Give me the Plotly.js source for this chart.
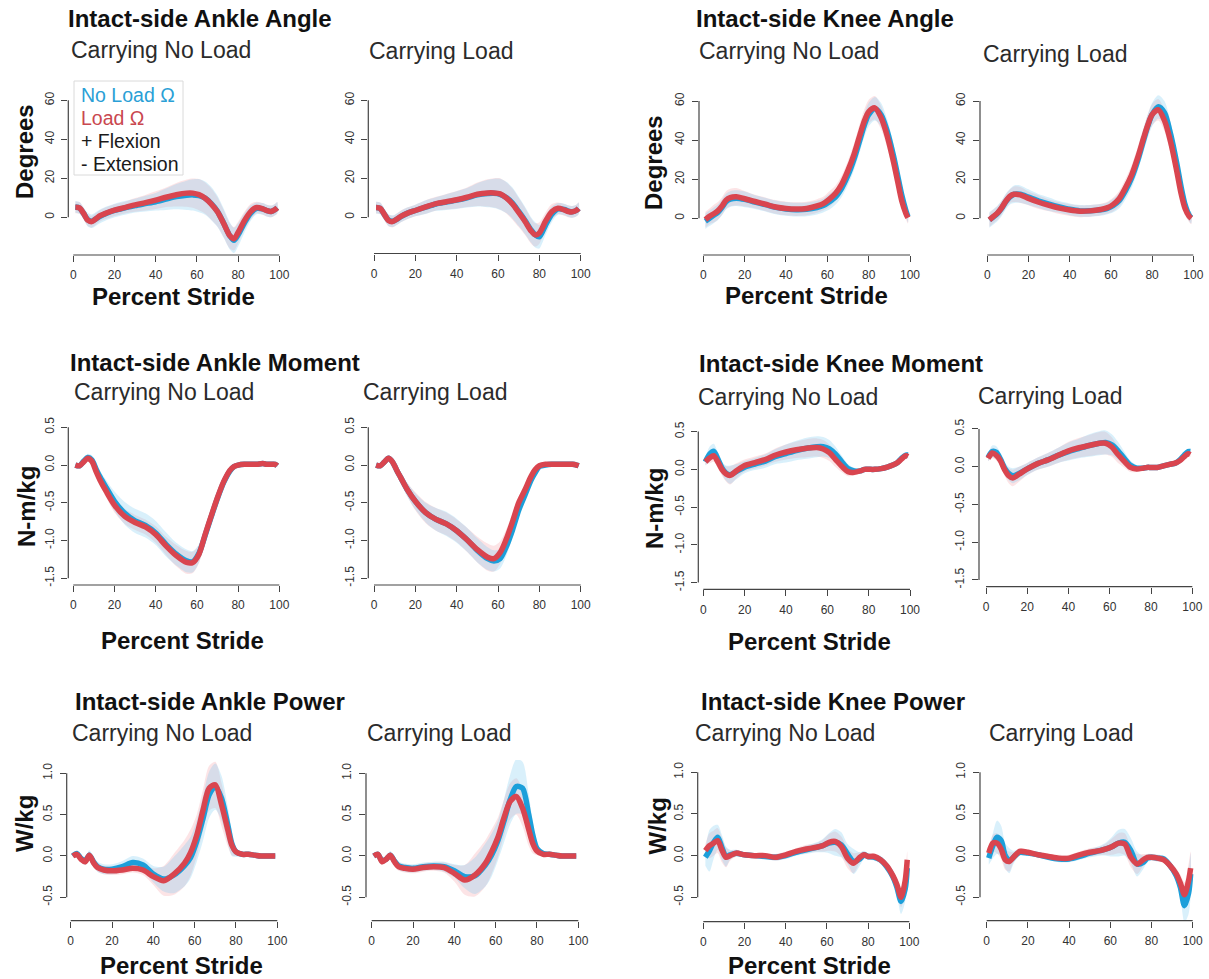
<!DOCTYPE html>
<html>
<head>
<meta charset="utf-8">
<script src="https://cdn.plot.ly/plotly-3.0.1.min.js"></script>
<style>
  html, body { margin: 0; padding: 0; background: #ffffff; }
  #chart { width: 1209px; height: 979px; }
</style>
</head>
<body>
<div id="chart"></div>
<script>
// Percent of stride at which each mean curve and its SD band are sampled
const stride = [1, 3, 5, 7, 9, 11, 13, 16, 20, 25, 30, 35, 40, 45, 50, 55, 58, 61, 64, 67, 70, 73, 76, 78, 80, 83, 86, 89, 92, 94, 96, 98, 99];

// Tick values and labels
const strideTickVals = [0, 20, 40, 60, 80, 100];
const strideTickText = ['0', '20', '40', '60', '80', '100'];
const angleTickVals = [0, 20, 40, 60];
const angleTickText = ['0', '20', '40', '60'];
const momentTickVals = [-1.5, -1, -0.5, 0, 0.5];
const momentTickText = ['-1.5', '-1.0', '-0.5', '0.0', '0.5'];
const powerTickVals = [-0.5, 0, 0.5, 1];
const powerTickText = ['-0.5', '0.0', '0.5', '1.0'];

// ---- Ankle angle (deg) ----
const ankleAngle_carryNone_noLoad   = [5.3, 4.8, 2, -1.2, -2, -0.8, 0.5, 2, 3.5, 4.8, 6, 7, 8, 9.3, 10.6, 11.3, 11.5, 11.1, 9.8, 7, 3, -3, -9.5, -11.8, -9, -3, 2, 4.6, 4.3, 3.4, 3, 4, 4.9];
const ankleAngle_carryNone_noLoadSd = [3, 3, 3, 3.5, 3.5, 3.5, 3.5, 3.5, 3.5, 3.5, 3.5, 4, 4.5, 5.5, 6.5, 7.5, 8, 8.5, 8.5, 8.5, 8, 7.5, 7, 6.5, 6, 5, 4, 3, 3, 3, 3, 3, 3];
const ankleAngle_carryNone_load     = [5.1, 4.8, 2, -1.5, -2.2, -0.8, 0.8, 2.2, 3.7, 5, 6.4, 7.5, 8.8, 10.3, 11.6, 12.4, 12.4, 11.6, 9.8, 6.8, 2.8, -3.2, -9.5, -11, -7.8, -1.8, 2.8, 5, 4.3, 3.4, 3, 4, 4.9];
const ankleAngle_carryNone_loadSd   = [3, 3, 3, 3, 3, 3, 3, 3, 3, 3, 3.5, 4, 4.5, 5, 6, 7, 7.5, 8, 8, 8, 7.5, 7, 6.5, 6, 5.5, 4.5, 4, 3, 3, 3, 3, 3, 3];

const ankleAngle_carryLoad_noLoad   = [5, 4.6, 1.5, -1.4, -2, -1, 0.4, 2, 3.5, 5.2, 6.8, 7.8, 8.8, 10, 11.5, 12.2, 12.3, 11.8, 10.2, 7.3, 3, -1.5, -6.5, -9, -10, -4, 1.5, 4.3, 4, 3.2, 2.8, 3.6, 4.6];
const ankleAngle_carryLoad_noLoadSd = [3, 3, 3, 3, 3, 3, 3, 3, 3, 3.5, 3.5, 4, 4.5, 5, 6, 7, 7.5, 8, 8, 8, 7.5, 7, 6.5, 6.5, 6, 5, 4, 3, 3, 3, 3, 3, 3];
const ankleAngle_carryLoad_load     = [5, 4.6, 1.5, -1.6, -2.2, -1, 0.5, 2, 3.5, 5.3, 7, 8, 9, 10.3, 11.8, 12.5, 12.5, 12, 10, 6.8, 2.5, -2, -7, -9, -8, -2, 2.8, 4.6, 3.8, 3, 2.8, 3.6, 4.6];
const ankleAngle_carryLoad_loadSd   = [3, 3, 3, 3, 3, 3, 3, 3, 3, 3.5, 3.5, 4, 4.5, 5, 6, 7, 7.5, 8, 8, 8, 7.5, 7, 6.5, 6, 5.5, 4.5, 4, 3, 3, 3, 3, 3, 3];

// ---- Knee angle (deg) ----
const kneeAngle_carryNone_noLoad   = [-1.5, 0, 1.5, 3, 5.5, 8.5, 9.8, 10.3, 9.7, 8.3, 7, 5.6, 4.8, 4.4, 4.6, 5.5, 6.5, 8.5, 11, 15.5, 22, 30.5, 41, 48, 53, 56, 53, 44.5, 32, 22, 12, 4, 0.8];
const kneeAngle_carryNone_noLoadSd = [4, 4, 4, 4, 4, 4, 4, 4, 4, 3.5, 3.5, 3.5, 3.5, 3.5, 3.5, 3.5, 3.5, 4, 4, 4.5, 5, 5.5, 6, 6, 6, 6, 6, 6, 6, 5, 4, 3, 3];
const kneeAngle_carryNone_load     = [-0.7, 1, 2.3, 3.8, 6.2, 9.3, 10.6, 11, 10, 8.6, 7.2, 5.8, 5, 4.7, 5, 6.3, 7.5, 9.8, 12.8, 17.5, 24.5, 33, 43.5, 50, 54.5, 56.5, 51.5, 42, 29, 19, 9, 2.5, 0.3];
const kneeAngle_carryNone_loadSd   = [4, 4, 4.5, 4.5, 4.5, 4.5, 4.5, 4.5, 4, 3.5, 3.5, 3.5, 3.5, 3.5, 3.5, 3.5, 3.5, 4, 4, 4.5, 5, 5.5, 6, 6, 6, 6, 6, 6, 6, 5, 4, 3, 3];

const kneeAngle_carryLoad_noLoad   = [-0.8, 0.8, 2.6, 5.2, 8.6, 11, 12.3, 12.3, 10.8, 8.8, 7.2, 5.8, 4.6, 3.8, 3.8, 4.3, 5, 6.5, 9, 14, 20.5, 29.5, 40.5, 47.5, 53, 57, 54, 43, 28, 16.5, 7, 1.5, 0.3];
const kneeAngle_carryLoad_noLoadSd = [4, 4, 4, 4, 4, 4, 4.5, 4.5, 4, 3.5, 3.5, 3, 3, 3, 3, 3, 3, 3.5, 4, 4.5, 5, 5.5, 6, 6, 6, 6, 6, 6, 5.5, 5, 4, 3, 3];
const kneeAngle_carryLoad_load     = [-0.8, 1, 2.8, 5.5, 8.8, 11.3, 12.3, 12, 10.2, 8.2, 6.6, 5.2, 4.2, 3.6, 3.8, 4.5, 5.3, 7, 10, 15.5, 22, 31, 41.5, 48, 53, 55.5, 50, 39, 24, 13, 5, 1, 0];
const kneeAngle_carryLoad_loadSd   = [3.5, 3.5, 3.5, 3.5, 3.5, 3.5, 4, 4, 3.5, 3.5, 3, 3, 3, 3, 3, 3, 3, 3.5, 4, 4.5, 5, 5.5, 5.5, 5.5, 5.5, 5.5, 5.5, 5.5, 5, 4.5, 3.5, 3, 3];

// ---- Ankle moment (N-m/kg) ----
const ankleMoment_carryNone_noLoad   = [0, -0.01, 0.05, 0.1, 0.07, -0.05, -0.16, -0.3, -0.48, -0.64, -0.74, -0.8, -0.9, -1.05, -1.18, -1.27, -1.28, -1.17, -0.93, -0.68, -0.44, -0.23, -0.08, -0.02, 0, 0.01, 0.01, 0.01, 0.02, 0.01, 0.01, 0.01, -0.01];
const ankleMoment_carryNone_noLoadSd = [0.02, 0.03, 0.04, 0.05, 0.06, 0.07, 0.08, 0.1, 0.13, 0.15, 0.16, 0.16, 0.16, 0.16, 0.15, 0.15, 0.14, 0.12, 0.1, 0.09, 0.08, 0.06, 0.04, 0.03, 0.02, 0.02, 0.02, 0.02, 0.02, 0.02, 0.02, 0.02, 0.02];
const ankleMoment_carryNone_load     = [0, -0.01, 0.04, 0.09, 0.05, -0.08, -0.2, -0.35, -0.53, -0.68, -0.76, -0.82, -0.92, -1.07, -1.2, -1.29, -1.29, -1.18, -0.92, -0.67, -0.43, -0.22, -0.07, -0.02, 0, 0.01, 0.01, 0.01, 0.02, 0.01, 0.01, 0.01, -0.01];
const ankleMoment_carryNone_loadSd   = [0.02, 0.03, 0.03, 0.04, 0.05, 0.06, 0.07, 0.08, 0.1, 0.1, 0.1, 0.1, 0.11, 0.12, 0.14, 0.15, 0.14, 0.12, 0.1, 0.08, 0.06, 0.05, 0.04, 0.03, 0.02, 0.02, 0.02, 0.02, 0.02, 0.02, 0.02, 0.02, 0.02];

const ankleMoment_carryLoad_noLoad   = [0, -0.01, 0.04, 0.09, 0.04, -0.07, -0.17, -0.32, -0.48, -0.63, -0.72, -0.78, -0.87, -0.99, -1.13, -1.24, -1.27, -1.24, -1.08, -0.86, -0.6, -0.4, -0.2, -0.1, -0.02, 0, 0.01, 0.01, 0.01, 0.01, 0.01, 0, -0.01];
const ankleMoment_carryLoad_noLoadSd = [0.02, 0.03, 0.03, 0.04, 0.05, 0.06, 0.07, 0.09, 0.11, 0.13, 0.15, 0.16, 0.16, 0.16, 0.16, 0.15, 0.14, 0.13, 0.12, 0.1, 0.08, 0.06, 0.05, 0.03, 0.02, 0.02, 0.02, 0.02, 0.02, 0.02, 0.02, 0.02, 0.02];
const ankleMoment_carryLoad_load     = [0, -0.01, 0.04, 0.09, 0.04, -0.07, -0.17, -0.32, -0.48, -0.63, -0.72, -0.78, -0.87, -0.99, -1.12, -1.22, -1.24, -1.16, -0.98, -0.75, -0.5, -0.33, -0.15, -0.06, -0.01, 0.01, 0.01, 0.01, 0.01, 0.01, 0.01, 0, -0.01];
const ankleMoment_carryLoad_loadSd   = [0.02, 0.03, 0.03, 0.04, 0.05, 0.06, 0.07, 0.09, 0.12, 0.14, 0.15, 0.15, 0.15, 0.16, 0.17, 0.18, 0.17, 0.15, 0.13, 0.1, 0.08, 0.06, 0.04, 0.03, 0.02, 0.02, 0.02, 0.02, 0.02, 0.02, 0.02, 0.02, 0.02];

// ---- Knee moment (N-m/kg) ----
const kneeMoment_carryNone_noLoad   = [0.1, 0.2, 0.24, 0.14, 0.02, -0.05, -0.07, -0.03, 0.03, 0.07, 0.11, 0.17, 0.21, 0.25, 0.28, 0.3, 0.3, 0.27, 0.2, 0.1, 0.01, -0.02, -0.02, 0, 0, 0, 0.01, 0.03, 0.06, 0.09, 0.15, 0.19, 0.19];
const kneeMoment_carryNone_noLoadSd = [0.05, 0.1, 0.1, 0.09, 0.08, 0.1, 0.12, 0.1, 0.08, 0.08, 0.09, 0.1, 0.12, 0.13, 0.14, 0.14, 0.13, 0.12, 0.1, 0.08, 0.06, 0.04, 0.03, 0.03, 0.02, 0.02, 0.02, 0.02, 0.02, 0.02, 0.03, 0.03, 0.03];
const kneeMoment_carryNone_load     = [0.1, 0.15, 0.18, 0.1, 0, -0.06, -0.08, -0.02, 0.05, 0.09, 0.13, 0.19, 0.23, 0.26, 0.28, 0.29, 0.27, 0.22, 0.13, 0.04, -0.03, -0.04, -0.02, 0, 0, 0, 0.01, 0.03, 0.06, 0.09, 0.14, 0.18, 0.17];
const kneeMoment_carryNone_loadSd   = [0.04, 0.07, 0.08, 0.08, 0.08, 0.1, 0.12, 0.1, 0.08, 0.08, 0.08, 0.09, 0.1, 0.11, 0.12, 0.12, 0.12, 0.11, 0.1, 0.08, 0.06, 0.04, 0.03, 0.03, 0.02, 0.02, 0.02, 0.02, 0.02, 0.02, 0.03, 0.03, 0.03];

const kneeMoment_carryLoad_noLoad   = [0.12, 0.2, 0.19, 0.1, -0.02, -0.09, -0.12, -0.09, -0.03, 0.04, 0.09, 0.15, 0.2, 0.24, 0.28, 0.31, 0.32, 0.29, 0.21, 0.11, 0.02, -0.02, -0.02, -0.01, -0.01, -0.01, 0.01, 0.03, 0.05, 0.09, 0.15, 0.2, 0.2];
const kneeMoment_carryLoad_noLoadSd = [0.05, 0.08, 0.08, 0.08, 0.08, 0.09, 0.1, 0.09, 0.08, 0.08, 0.09, 0.1, 0.12, 0.13, 0.15, 0.16, 0.16, 0.14, 0.12, 0.09, 0.06, 0.04, 0.03, 0.03, 0.02, 0.02, 0.02, 0.02, 0.02, 0.02, 0.03, 0.03, 0.03];
const kneeMoment_carryLoad_load     = [0.11, 0.18, 0.15, 0.08, -0.04, -0.12, -0.15, -0.1, -0.03, 0.04, 0.09, 0.15, 0.21, 0.25, 0.28, 0.31, 0.31, 0.26, 0.16, 0.07, -0.01, -0.03, -0.02, -0.01, -0.01, -0.01, 0.01, 0.03, 0.05, 0.08, 0.13, 0.17, 0.16];
const kneeMoment_carryLoad_loadSd   = [0.04, 0.07, 0.07, 0.08, 0.08, 0.1, 0.11, 0.1, 0.08, 0.08, 0.09, 0.1, 0.12, 0.13, 0.14, 0.15, 0.15, 0.13, 0.11, 0.08, 0.06, 0.04, 0.03, 0.03, 0.02, 0.02, 0.02, 0.02, 0.02, 0.02, 0.03, 0.03, 0.03];

// ---- Ankle power (W/kg) ----
const anklePower_carryNone_noLoad   = [0, 0.03, -0.03, -0.06, 0.01, -0.07, -0.13, -0.16, -0.16, -0.13, -0.08, -0.11, -0.22, -0.28, -0.23, -0.12, -0.02, 0.18, 0.45, 0.74, 0.84, 0.7, 0.38, 0.15, 0.05, 0.02, 0.02, 0.01, 0, 0, 0, 0, 0];
const anklePower_carryNone_noLoadSd = [0.01, 0.03, 0.04, 0.05, 0.06, 0.06, 0.06, 0.06, 0.06, 0.07, 0.08, 0.08, 0.1, 0.15, 0.22, 0.25, 0.25, 0.25, 0.27, 0.28, 0.28, 0.27, 0.22, 0.15, 0.06, 0.02, 0.02, 0.02, 0.01, 0.01, 0.01, 0.01, 0.01];
const anklePower_carryNone_load     = [0, 0.02, -0.04, -0.07, 0.01, -0.08, -0.14, -0.17, -0.18, -0.17, -0.15, -0.17, -0.25, -0.3, -0.22, -0.09, 0.04, 0.25, 0.55, 0.82, 0.86, 0.62, 0.32, 0.13, 0.05, 0.02, 0.02, 0.01, 0, 0, 0, 0, 0];
const anklePower_carryNone_loadSd   = [0.01, 0.02, 0.03, 0.04, 0.04, 0.05, 0.05, 0.05, 0.05, 0.05, 0.05, 0.06, 0.1, 0.18, 0.25, 0.28, 0.28, 0.25, 0.25, 0.27, 0.28, 0.26, 0.2, 0.12, 0.05, 0.02, 0.02, 0.02, 0.01, 0.01, 0.01, 0.01, 0.01];

const anklePower_carryLoad_noLoad   = [0, 0.02, -0.06, -0.04, 0.01, -0.06, -0.12, -0.14, -0.15, -0.13, -0.12, -0.13, -0.18, -0.25, -0.24, -0.11, 0.01, 0.18, 0.42, 0.68, 0.84, 0.82, 0.5, 0.25, 0.09, 0.03, 0.02, 0.01, 0, 0, 0, 0, 0];
const anklePower_carryLoad_noLoadSd = [0.01, 0.03, 0.04, 0.04, 0.05, 0.05, 0.05, 0.05, 0.05, 0.05, 0.05, 0.06, 0.08, 0.14, 0.22, 0.26, 0.26, 0.24, 0.26, 0.3, 0.33, 0.32, 0.25, 0.15, 0.06, 0.02, 0.02, 0.02, 0.01, 0.01, 0.01, 0.01, 0.01];
const anklePower_carryLoad_load     = [0, 0.02, -0.07, -0.04, 0.01, -0.07, -0.13, -0.15, -0.16, -0.14, -0.13, -0.14, -0.21, -0.29, -0.23, -0.09, 0.05, 0.22, 0.46, 0.66, 0.72, 0.58, 0.32, 0.15, 0.06, 0.02, 0.02, 0.01, 0, 0, 0, 0, 0];
const anklePower_carryLoad_loadSd   = [0.01, 0.02, 0.04, 0.04, 0.04, 0.05, 0.05, 0.05, 0.05, 0.05, 0.05, 0.06, 0.1, 0.18, 0.26, 0.28, 0.27, 0.24, 0.22, 0.22, 0.22, 0.22, 0.2, 0.12, 0.05, 0.02, 0.02, 0.02, 0.01, 0.01, 0.01, 0.01, 0.01];

// ---- Knee power (W/kg) ----
const kneePower_carryNone_noLoad   = [-0.02, 0.06, 0.16, 0.22, 0.1, -0.01, 0.01, 0.03, 0.01, 0, -0.01, -0.02, 0, 0.04, 0.07, 0.1, 0.12, 0.15, 0.16, 0.13, 0.02, -0.07, -0.04, 0.01, -0.01, -0.02, -0.05, -0.13, -0.25, -0.38, -0.55, -0.4, -0.15];
const kneePower_carryNone_noLoadSd = [0.1, 0.25, 0.2, 0.15, 0.15, 0.12, 0.06, 0.04, 0.03, 0.03, 0.03, 0.04, 0.04, 0.04, 0.05, 0.06, 0.08, 0.12, 0.16, 0.15, 0.12, 0.15, 0.08, 0.05, 0.04, 0.04, 0.05, 0.06, 0.08, 0.1, 0.15, 0.15, 0.1];
const kneePower_carryNone_load     = [0.06, 0.12, 0.15, 0.18, 0.07, -0.02, 0, 0.03, 0.01, 0, 0, -0.02, 0.01, 0.05, 0.08, 0.1, 0.12, 0.16, 0.17, 0.11, -0.03, -0.09, -0.02, 0.01, -0.01, -0.01, -0.05, -0.12, -0.24, -0.35, -0.5, -0.3, -0.05];
const kneePower_carryNone_loadSd   = [0.08, 0.15, 0.15, 0.15, 0.15, 0.12, 0.06, 0.04, 0.03, 0.03, 0.03, 0.04, 0.04, 0.04, 0.05, 0.05, 0.07, 0.1, 0.12, 0.12, 0.12, 0.12, 0.06, 0.04, 0.04, 0.04, 0.04, 0.05, 0.07, 0.09, 0.12, 0.12, 0.1];

const kneePower_carryLoad_noLoad   = [-0.03, 0.12, 0.22, 0.18, 0, -0.06, -0.02, 0.04, 0.03, 0.01, -0.02, -0.04, -0.04, -0.01, 0.03, 0.06, 0.08, 0.11, 0.15, 0.16, 0.06, -0.1, -0.08, -0.03, -0.02, -0.03, -0.04, -0.12, -0.24, -0.38, -0.6, -0.45, -0.22];
const kneePower_carryLoad_noLoadSd = [0.08, 0.15, 0.2, 0.18, 0.15, 0.15, 0.08, 0.04, 0.03, 0.03, 0.03, 0.04, 0.04, 0.04, 0.05, 0.06, 0.08, 0.12, 0.16, 0.16, 0.15, 0.15, 0.08, 0.05, 0.04, 0.04, 0.04, 0.05, 0.08, 0.12, 0.2, 0.25, 0.25];
const kneePower_carryLoad_load     = [0.03, 0.15, 0.15, 0.08, -0.05, -0.07, -0.02, 0.05, 0.04, 0.01, -0.01, -0.03, -0.03, 0.01, 0.04, 0.06, 0.08, 0.11, 0.15, 0.14, -0.02, -0.1, -0.05, -0.02, -0.02, -0.03, -0.05, -0.12, -0.22, -0.33, -0.47, -0.3, -0.15];
const kneePower_carryLoad_loadSd   = [0.06, 0.1, 0.12, 0.12, 0.12, 0.12, 0.06, 0.04, 0.03, 0.03, 0.03, 0.04, 0.04, 0.04, 0.05, 0.05, 0.07, 0.1, 0.12, 0.13, 0.12, 0.12, 0.07, 0.04, 0.04, 0.04, 0.04, 0.05, 0.07, 0.1, 0.15, 0.2, 0.2];

// Text
const subtitles = ['Carrying No Load', 'Carrying Load'];
const legendLines = ['No Load Ω', 'Load Ω', '+ Flexion', '- Extension'];

// Styling
const W = 1209, H = 979;
const BLUE = '#1c9fda', RED = '#d9454f';
const BLUE_BAND = 'rgba(120,200,240,0.28)', RED_BAND = 'rgba(240,130,140,0.22)';
const AXIS_COLOR = '#444444';
const FONT = 'Liberation Sans, Arial, Helvetica, sans-serif';

// Panel geometry in page pixels: x tick 0/100 positions, left & bottom edges of the plot region,
// pixel rows of the lowest/highest y tick, and the top of the plot region.
const panels = [
  // row 1: angles
  {blue: ankleAngle_carryNone_noLoad, blueSd: ankleAngle_carryNone_noLoadSd, red: ankleAngle_carryNone_load, redSd: ankleAngle_carryNone_loadSd,
   x0: 73.3, x100: 279.3, left: 68.3, bottom: 255, yLoPx: 217.3, yHiPx: 100.3, top: 92, yt: angleTickVals, ytt: angleTickText},
  {blue: ankleAngle_carryLoad_noLoad, blueSd: ankleAngle_carryLoad_noLoadSd, red: ankleAngle_carryLoad_load, redSd: ankleAngle_carryLoad_loadSd,
   x0: 374, x100: 580.7, left: 368.3, bottom: 253.5, yLoPx: 217.3, yHiPx: 100.3, top: 92, yt: angleTickVals, ytt: angleTickText},
  {blue: kneeAngle_carryNone_noLoad, blueSd: kneeAngle_carryNone_noLoadSd, red: kneeAngle_carryNone_load, redSd: kneeAngle_carryNone_loadSd,
   x0: 703.3, x100: 910, left: 699, bottom: 255, yLoPx: 218.3, yHiPx: 101, top: 92, yt: angleTickVals, ytt: angleTickText},
  {blue: kneeAngle_carryLoad_noLoad, blueSd: kneeAngle_carryLoad_noLoadSd, red: kneeAngle_carryLoad_load, redSd: kneeAngle_carryLoad_loadSd,
   x0: 987.3, x100: 1193.3, left: 980, bottom: 255, yLoPx: 218.3, yHiPx: 101, top: 92, yt: angleTickVals, ytt: angleTickText},
  // row 2: moments
  {blue: ankleMoment_carryNone_noLoad, blueSd: ankleMoment_carryNone_noLoadSd, red: ankleMoment_carryNone_load, redSd: ankleMoment_carryNone_loadSd,
   x0: 73.3, x100: 279.3, left: 68.3, bottom: 585, yLoPx: 578.3, yHiPx: 427.3, top: 420, yt: momentTickVals, ytt: momentTickText},
  {blue: ankleMoment_carryLoad_noLoad, blueSd: ankleMoment_carryLoad_noLoadSd, red: ankleMoment_carryLoad_load, redSd: ankleMoment_carryLoad_loadSd,
   x0: 374, x100: 580.7, left: 368.3, bottom: 585, yLoPx: 578.3, yHiPx: 427.3, top: 420, yt: momentTickVals, ytt: momentTickText},
  {blue: kneeMoment_carryNone_noLoad, blueSd: kneeMoment_carryNone_noLoadSd, red: kneeMoment_carryNone_load, redSd: kneeMoment_carryNone_loadSd,
   x0: 703.3, x100: 910, left: 698.3, bottom: 589.3, yLoPx: 582.6, yHiPx: 431.6, top: 424, yt: momentTickVals, ytt: momentTickText},
  {blue: kneeMoment_carryLoad_noLoad, blueSd: kneeMoment_carryLoad_noLoadSd, red: kneeMoment_carryLoad_load, redSd: kneeMoment_carryLoad_loadSd,
   x0: 986, x100: 1192.3, left: 979, bottom: 586.7, yLoPx: 579.9, yHiPx: 428.9, top: 421, yt: momentTickVals, ytt: momentTickText},
  // row 3: powers
  {blue: anklePower_carryNone_noLoad, blueSd: anklePower_carryNone_noLoadSd, red: anklePower_carryNone_load, redSd: anklePower_carryNone_loadSd,
   x0: 70.7, x100: 277.3, left: 66.7, bottom: 920.7, yLoPx: 897.3, yHiPx: 773.3, top: 760, yt: powerTickVals, ytt: powerTickText},
  {blue: anklePower_carryLoad_noLoad, blueSd: anklePower_carryLoad_noLoadSd, red: anklePower_carryLoad_load, redSd: anklePower_carryLoad_loadSd,
   x0: 371.7, x100: 578.3, left: 366, bottom: 920.7, yLoPx: 897.3, yHiPx: 773.3, top: 760, yt: powerTickVals, ytt: powerTickText},
  {blue: kneePower_carryNone_noLoad, blueSd: kneePower_carryNone_noLoadSd, red: kneePower_carryNone_load, redSd: kneePower_carryNone_loadSd,
   x0: 703.3, x100: 909.3, left: 697.7, bottom: 921.7, yLoPx: 897.3, yHiPx: 772.3, top: 760, yt: powerTickVals, ytt: powerTickText},
  {blue: kneePower_carryLoad_noLoad, blueSd: kneePower_carryLoad_noLoadSd, red: kneePower_carryLoad_load, redSd: kneePower_carryLoad_loadSd,
   x0: 986.7, x100: 1192.7, left: 980, bottom: 920.7, yLoPx: 897.3, yHiPx: 772.3, top: 760, yt: powerTickVals, ytt: powerTickText}
];

function bandPolygon(x, mean, sd) {
  const upper = mean.map((v, i) => v + sd[i]);
  const lower = mean.map((v, i) => v - sd[i]);
  return { x: x.concat(x.slice().reverse()), y: upper.concat(lower.slice().reverse()) };
}

const traces = [];
const layout = {
  width: W, height: H,
  margin: { l: 0, r: 0, t: 0, b: 0 },
  paper_bgcolor: '#ffffff', plot_bgcolor: 'rgba(0,0,0,0)',
  showlegend: false,
  font: { family: FONT, color: '#333333' },
  shapes: [], annotations: []
};

panels.forEach((p, i) => {
  const k = i === 0 ? '' : String(i + 1);
  const xa = 'x' + k, ya = 'y' + k;

  // x scale
  const sx = (p.x100 - p.x0) / 100;
  const xMin = (p.left - p.x0) / sx;
  const right = p.x0 + 104 * sx;
  // y scale
  const yLo = p.yt[0], yHi = p.yt[p.yt.length - 1];
  const sy = (p.yLoPx - p.yHiPx) / (yHi - yLo);
  const yMin = yLo - (p.bottom - p.yLoPx) / sy;
  const yMax = yHi + (p.yHiPx - p.top) / sy;

  layout['xaxis' + k] = {
    domain: [p.left / W, right / W], anchor: ya, range: [xMin, 104],
    showgrid: false, zeroline: false, showline: false,
    ticks: 'outside', ticklen: 6, tickwidth: 1, tickcolor: AXIS_COLOR,
    tickvals: strideTickVals, ticktext: strideTickText,
    tickfont: { family: FONT, size: 12, color: '#333333' }, ticklabelstandoff: 3,
    fixedrange: true
  };
  layout['yaxis' + k] = {
    domain: [1 - p.bottom / H, 1 - p.top / H], anchor: xa, range: [yMin, yMax],
    showgrid: false, zeroline: false, showline: false,
    ticks: 'outside', ticklen: 6, tickwidth: 1, tickcolor: AXIS_COLOR,
    tickvals: p.yt, ticktext: p.ytt, tickangle: -90,
    tickfont: { family: FONT, size: 12, color: '#333333' }, ticklabelstandoff: 3,
    fixedrange: true
  };

  // R-style axis lines spanning first to last tick
  layout.shapes.push({ type: 'line', xref: xa, yref: ya + ' domain', x0: 0, x1: 100, y0: 0, y1: 0,
                       line: { color: AXIS_COLOR, width: 1.2 } });
  layout.shapes.push({ type: 'line', xref: xa + ' domain', yref: ya, x0: 0, x1: 0, y0: yLo, y1: yHi,
                       line: { color: AXIS_COLOR, width: 1.2 } });

  const rb = bandPolygon(stride, p.red, p.redSd);
  const bb = bandPolygon(stride, p.blue, p.blueSd);
  traces.push({ x: rb.x, y: rb.y, xaxis: xa, yaxis: ya, type: 'scatter', mode: 'lines',
                fill: 'toself', fillcolor: RED_BAND, line: { width: 0, shape: 'spline', smoothing: 0.8 }, hoverinfo: 'skip' });
  traces.push({ x: bb.x, y: bb.y, xaxis: xa, yaxis: ya, type: 'scatter', mode: 'lines',
                fill: 'toself', fillcolor: BLUE_BAND, line: { width: 0, shape: 'spline', smoothing: 0.8 }, hoverinfo: 'skip' });
  traces.push({ x: stride, y: p.blue, xaxis: xa, yaxis: ya, type: 'scatter', mode: 'lines',
                name: legendLines[0], line: { color: BLUE, width: 5.5, shape: 'spline', smoothing: 0.8 } });
  traces.push({ x: stride, y: p.red, xaxis: xa, yaxis: ya, type: 'scatter', mode: 'lines',
                name: legendLines[1], line: { color: RED, width: 5.5, shape: 'spline', smoothing: 0.8 } });
});

// Text placed in page pixels (left-anchored text is nudged for the annotation padding)
function textAt(text, x, y, font, xanchor, extra) {
  const anchor = xanchor || 'left';
  const dx = anchor === 'left' ? -3 : 0;
  return Object.assign({
    text: text, xref: 'paper', yref: 'paper', x: (x + dx) / W, y: 1 - y / H,
    xanchor: anchor, yanchor: 'middle', showarrow: false, font: font
  }, extra || {});
}
const titleFont = { family: FONT, size: 24, color: '#111111', weight: 'bold' };
const subFont = { family: FONT, size: 23, color: '#2b2b2b' };
const axisTitleFont = { family: FONT, size: 24, color: '#111111', weight: 'bold' };

const ann = layout.annotations;
ann.push(textAt('Intact-side Ankle Angle', 69, 19, titleFont));
ann.push(textAt('Intact-side Knee Angle', 697, 19, titleFont));
ann.push(textAt('Intact-side Ankle Moment', 70.5, 362, titleFont));
ann.push(textAt('Intact-side Knee Moment', 700, 364, titleFont));
ann.push(textAt('Intact-side Ankle Power', 76, 701, titleFont));
ann.push(textAt('Intact-side Knee Power', 701.5, 701, titleFont));

const subPos = [[71.7, 50], [370, 51], [700, 51], [984, 54],
                [75, 392], [364.3, 392], [699, 397], [979, 396],
                [72.7, 733], [367.7, 733], [696, 733], [990, 733]];
subPos.forEach((q, i) => ann.push(textAt(subtitles[i % 2], q[0], q[1], subFont)));

ann.push(textAt('Degrees', 24, 152, axisTitleFont, 'center', { textangle: -90 }));
ann.push(textAt('Degrees', 653, 163, axisTitleFont, 'center', { textangle: -90 }));
ann.push(textAt('N-m/kg', 27, 507, axisTitleFont, 'center', { textangle: -90 }));
ann.push(textAt('N-m/kg', 654, 509, axisTitleFont, 'center', { textangle: -90 }));
ann.push(textAt('W/kg', 24, 824, axisTitleFont, 'center', { textangle: -90 }));
ann.push(textAt('W/kg', 656.5, 826, axisTitleFont, 'center', { textangle: -90 }));

ann.push(textAt('Percent Stride', 173, 296.5, axisTitleFont, 'center'));
ann.push(textAt('Percent Stride', 806, 295, axisTitleFont, 'center'));
ann.push(textAt('Percent Stride', 182.5, 640, axisTitleFont, 'center'));
ann.push(textAt('Percent Stride', 809, 641.5, axisTitleFont, 'center'));
ann.push(textAt('Percent Stride', 181, 965, axisTitleFont, 'center'));
ann.push(textAt('Percent Stride', 809, 965, axisTitleFont, 'center'));

// Legend box inside the first panel: frame plus one line of text per entry
layout.shapes.push({ type: 'rect', xref: 'paper', yref: 'paper',
  x0: 74 / W, x1: 183 / W, y0: 1 - 175 / H, y1: 1 - 81 / H,
  line: { color: '#dadada', width: 1 }, fillcolor: 'rgba(255,255,255,0.9)', layer: 'above' });
const legendColors = ['#2a9fd6', '#c9474f', '#1a1a1a', '#1a1a1a'];
const legendRows = [95, 118, 141, 164];
legendLines.forEach((t, i) => ann.push(textAt(t, 81.5, legendRows[i],
  { family: FONT, size: 19.5, color: legendColors[i] })));

Plotly.newPlot('chart', traces, layout, { displayModeBar: false, staticPlot: true });
</script>
</body>
</html>
